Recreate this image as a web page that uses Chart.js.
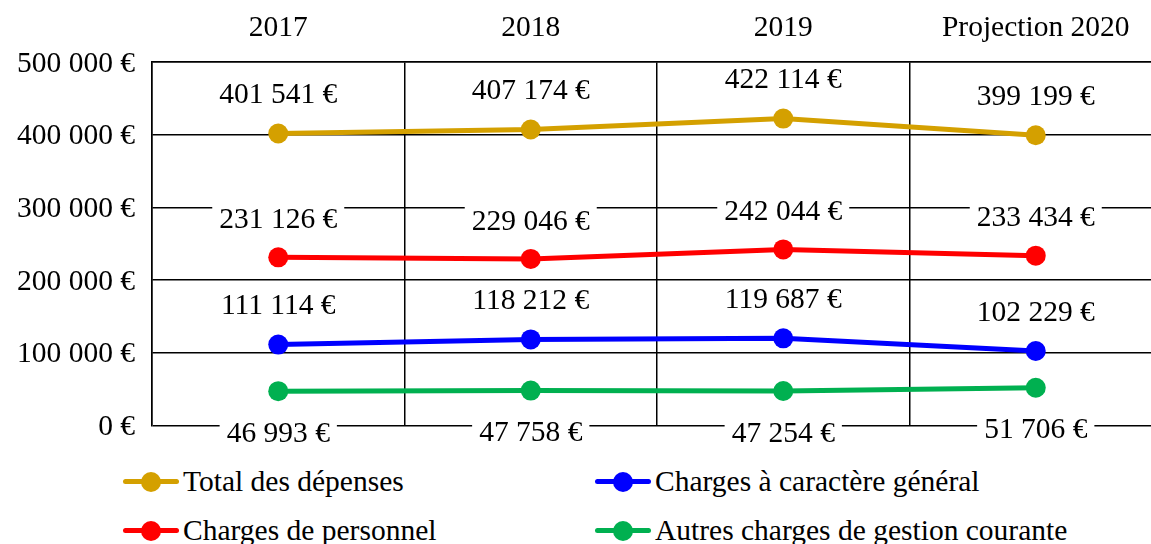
<!DOCTYPE html>
<html>
<head>
<meta charset="utf-8">
<script src="https://cdn.jsdelivr.net/npm/chart.js@4/dist/chart.umd.min.js"></script>
<style>
  html, body { margin: 0; padding: 0; background: #fff; overflow: hidden; }
  #wrap { position: relative; width: 1172px; height: 544px; }
  #chart { position: absolute; left: 0; top: 0; }
  .legend { position: absolute; font-family: "Liberation Serif", serif; font-size: 29.5px; color: #000; }
  .item { position: absolute; display: flex; align-items: center; white-space: nowrap; }
  .swatch { position: relative; width: 56px; height: 20px; margin-right: 4px; }
  .swatch .ln { position: absolute; left: 0; right: 0; top: 7.5px; height: 5px; border-radius: 3px; }
  .swatch .dot { position: absolute; left: 18px; top: 0; width: 20px; height: 20px; border-radius: 50%; }
</style>
</head>
<body>
<div id="wrap">
  <canvas id="chart" width="1172" height="460"></canvas>
  <div id="legend" class="legend"></div>
</div>
<script>
// données
const categories = ['2017', '2018', '2019', 'Projection 2020'];
const totalDepenses = [401541, 407174, 422114, 399199];
const chargesGenerales = [111114, 118212, 119687, 102229];
const chargesPersonnel = [231126, 229046, 242044, 233434];
const autresCharges = [46993, 47758, 47254, 51706];
const yTicks = [0, 100000, 200000, 300000, 400000, 500000];

const FONT = '"Liberation Serif", "Times New Roman", serif';
const FSIZE = 29.5;

function formatEuro(v) {
    return String(Math.round(v)).replace(/\B(?=(\d{3})+(?!\d))/g, ' ') + ' €';
}

const series = [
    { label: 'Total des dépenses', data: totalDepenses, color: '#D4A000', offset: -39 },
    { label: 'Charges à caractère général', data: chargesGenerales, color: '#0000FF', offset: -39 },
    { label: 'Charges de personnel', data: chargesPersonnel, color: '#FF0000', offset: -38 },
    { label: 'Autres charges de gestion courante', data: autresCharges, color: '#00B050', offset: 42 }
];

// étiquettes de valeurs avec fond blanc
const valueLabels = {
    id: 'valueLabels',
    afterDatasetsDraw(chart) {
        const ctx = chart.ctx;
        ctx.save();
        ctx.font = FSIZE + 'px ' + FONT;
        ctx.textAlign = 'center';
        ctx.textBaseline = 'middle';
        chart.data.datasets.forEach((ds, i) => {
            const meta = chart.getDatasetMeta(i);
            meta.data.forEach((pt, j) => {
                const txt = formatEuro(ds.data[j]);
                const w = ctx.measureText(txt).width;
                const y = pt.y + ds.labelOffset;
                ctx.fillStyle = '#fff';
                ctx.fillRect(pt.x - w / 2 - 7, y - 15, w + 14, 30);
                ctx.fillStyle = '#000';
                ctx.fillText(txt, pt.x, y + 1);
            });
        });
        ctx.restore();
    }
};

const chart = new Chart(document.getElementById('chart'), {
    type: 'line',
    data: {
        labels: categories,
        datasets: series.map(s => ({
            label: s.label,
            data: s.data,
            borderColor: s.color,
            backgroundColor: s.color,
            pointBackgroundColor: s.color,
            pointBorderWidth: 0,
            pointRadius: 10,
            borderWidth: 5,
            tension: 0,
            labelOffset: s.offset
        }))
    },
    options: {
        responsive: false,
        animation: false,
        layout: { padding: { top: 0, left: 0, right: 0, bottom: 32 } },
        plugins: {
            legend: { display: false },
            tooltip: { enabled: false }
        },
        scales: {
            x: {
                position: 'top',
                offset: true,
                grid: { offset: true, color: '#000', lineWidth: 1.5, drawTicks: false },
                border: { display: true, color: '#000', width: 1.5 },
                ticks: { color: '#000', font: { family: FONT, size: FSIZE }, padding: 16, maxRotation: 0 },
                afterFit: s => { s.height = 62; s.paddingLeft = 0; s.paddingRight = 0; }
            },
            y: {
                min: 0,
                max: 500000,
                afterBuildTicks: s => { s.ticks = yTicks.map(v => ({ value: v })); },
                grid: { color: '#000', lineWidth: 1.5, drawTicks: false },
                border: { display: true, color: '#000', width: 1.5 },
                ticks: {
                    color: '#000',
                    font: { family: FONT, size: FSIZE },
                    padding: 17,
                    labelOffset: 2,
                    callback: v => formatEuro(v)
                },
                afterFit: s => { s.width = 152; }
            }
        }
    },
    plugins: [valueLabels]
});

// légende sur deux colonnes (ordre Excel)
const legendPos = [
    { left: 123, top: 465 },
    { left: 595, top: 465 },
    { left: 123, top: 514 },
    { left: 595, top: 514 }
];
const legendEl = document.getElementById('legend');
series.forEach((s, k) => {
    const item = document.createElement('div');
    item.className = 'item';
    item.style.left = legendPos[k].left + 'px';
    item.style.top = legendPos[k].top + 'px';
    item.innerHTML = '<div class="swatch"><div class="ln" style="background:' + s.color + '"></div>' +
        '<div class="dot" style="background:' + s.color + '"></div></div><span>' + s.label + '</span>';
    legendEl.appendChild(item);
});
</script>
</body>
</html>
